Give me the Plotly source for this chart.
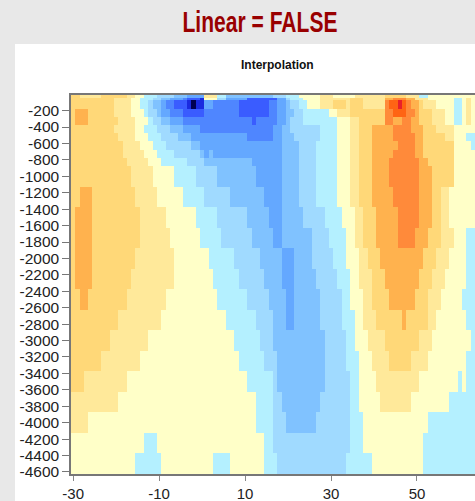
import plotly.graph_objects as go

# Band classes -8..6 and their colours
band_values = list(range(-8, 7))
band_colors = ["#000050", "#1a2ae0", "#3a5cff", "#4f86ff", "#64a8ff", "#80c2ff", "#a0daff", "#b4f0ff",
               "#ffffc8", "#ffe99a", "#ffd878", "#ffb24e", "#ff8a3a", "#ff6414", "#e8202a"]

lon_centres = list(range(-30, 64))
lon_edges = [v - 0.5 for v in lon_centres] + [63.5]

depth_edges = [-10, -45, -75, -175, -275, -375, -475, -575, -675, -775, -875, -1125, -1375, -1625,
               -1875, -2125, -2375, -2625, -2875, -3125, -3375, -3625, -3875, -4125, -4375, -4625]

# For each depth band, top to bottom: (class, last longitude of that class)
runs_by_depth = [
    [(2,-29),(1,-24),(2,-18),(1,-16),(0,-14),(-1,-11),(-2,-7),(-3,-4),(-4,0),(1,3),(-1,5),(-3,16),(-2,19),(-1,22),(0,27),(1,30),(0,35),(1,42),(2,47),(1,50),(-1,52),(0,63)],
    [(2,-21),(1,-17),(0,-15),(-1,-12),(-2,-10),(-3,-8),(-4,-5),(-5,-4),(-6,-1),(-7,0),(0,3),(-2,5),(-4,10),(-6,17),(-4,19),(-2,20),(-1,23),(0,27),(1,34),(2,37),(1,42),(3,44),(4,47),(3,49),(1,52),(0,58),(-1,60),(0,61),(1,62),(0,63)],
    [(2,-21),(1,-17),(0,-15),(-1,-13),(-2,-12),(-3,-10),(-4,-9),(-5,-7),(-6,-4),(-7,-3),(-8,-2),(-7,0),(-4,2),(-5,8),(-6,15),(-5,17),(-4,19),(-3,20),(-2,22),(-1,24),(0,27),(1,30),(2,33),(1,34),(2,37),(1,42),(4,43),(5,45),(6,46),(5,47),(4,48),(3,50),(2,51),(1,54),(0,58),(-1,60),(0,61),(1,62),(0,63)],
    [(2,-30),(3,-27),(2,-21),(1,-17),(0,-14),(-1,-13),(-2,-11),(-3,-10),(-4,-8),(-5,-5),(-6,0),(-5,8),(-6,15),(-5,17),(-4,19),(-3,21),(-2,23),(-1,29),(0,31),(1,34),(2,42),(4,44),(5,47),(4,49),(3,50),(2,53),(1,56),(0,58),(-1,60),(0,61),(1,62),(0,63)],
    [(2,-30),(3,-27),(2,-20),(1,-16),(0,-13),(-1,-12),(-2,-10),(-3,-8),(-4,-5),(-5,11),(-6,12),(-5,17),(-4,19),(-3,20),(-2,23),(-1,31),(0,34),(1,36),(2,42),(4,44),(3,46),(4,48),(3,50),(2,53),(1,56),(0,58),(-1,60),(0,61),(1,62),(0,63)],
    [(2,-21),(1,-16),(0,-14),(-1,-11),(-2,-8),(-3,-5),(-4,-1),(-5,16),(-4,18),(-3,20),(-2,27),(-1,31),(0,34),(1,36),(2,39),(3,44),(4,48),(3,51),(2,54),(1,58),(0,63)],
    [(2,-20),(1,-16),(0,-13),(-1,-10),(-2,-6),(-3,-3),(-4,10),(-5,16),(-4,18),(-3,21),(-2,27),(-1,31),(0,34),(1,36),(2,39),(3,44),(4,49),(3,51),(2,56),(1,58),(0,61),(-1,63)],
    [(2,-19),(1,-15),(0,-12),(-1,-9),(-2,-3),(-3,-1),(-4,18),(-3,22),(-2,26),(-1,31),(0,34),(1,36),(2,39),(3,45),(4,49),(3,51),(2,58),(0,62),(-1,63)],
    [(2,-19),(1,-14),(0,-11),(-1,-7),(-2,-1),(-3,0),(-4,1),(-3,2),(-4,18),(-3,22),(-2,26),(-1,31),(0,34),(1,36),(2,39),(3,44),(4,49),(3,51),(2,58),(0,63)],
    [(2,-18),(1,-13),(0,-10),(-1,-4),(-2,0),(-3,11),(-4,18),(-3,22),(-2,26),(-1,31),(0,34),(1,36),(2,39),(3,43),(4,50),(3,52),(2,58),(0,63)],
    [(2,-17),(1,-12),(0,-7),(-1,-2),(-2,3),(-3,12),(-4,18),(-3,22),(-2,26),(-1,31),(0,34),(1,36),(2,39),(3,43),(4,50),(3,53),(2,58),(0,63)],
    [(2,-29),(3,-26),(2,-16),(1,-11),(0,-5),(-1,0),(-2,6),(-3,14),(-4,18),(-3,22),(-2,26),(-1,31),(0,34),(1,36),(2,39),(3,44),(4,50),(3,53),(2,55),(1,57),(0,63)],
    [(2,-30),(3,-26),(2,-15),(1,-9),(0,-2),(-1,3),(-2,10),(-3,15),(-4,18),(-3,23),(-2,28),(-1,32),(0,35),(1,37),(2,40),(3,45),(4,50),(3,53),(2,55),(1,57),(0,63)],
    [(2,-30),(3,-26),(2,-15),(1,-8),(0,-1),(-1,4),(-2,11),(-3,16),(-4,18),(-3,25),(-2,29),(-1,33),(0,35),(1,37),(2,40),(3,45),(4,49),(3,52),(2,55),(1,58),(0,61),(-1,63)],
    [(2,-30),(3,-26),(2,-16),(1,-7),(0,1),(-1,7),(-2,13),(-3,18),(-4,21),(-3,25),(-2,30),(-1,33),(0,36),(1,38),(2,41),(3,51),(2,54),(1,57),(0,61),(-1,63)],
    [(2,-30),(3,-26),(2,-17),(1,-7),(0,2),(-1,8),(-2,14),(-3,18),(-4,21),(-3,26),(-2,31),(-1,34),(0,36),(1,39),(2,42),(3,50),(2,53),(1,56),(0,61),(-1,63)],
    [(2,-29),(3,-27),(2,-18),(1,-9),(0,3),(-1,10),(-2,15),(-3,19),(-4,21),(-3,27),(-2,32),(-1,34),(0,37),(1,39),(2,43),(3,49),(2,52),(1,55),(0,60),(-1,63)],
    [(2,-20),(1,-10),(0,5),(-1,12),(-2,16),(-3,19),(-4,21),(-3,27),(-2,32),(-1,35),(0,37),(1,40),(2,46),(3,47),(2,52),(1,54),(0,61),(-1,63)],
    [(2,-22),(1,-13),(0,7),(-1,13),(-2,16),(-3,28),(-2,33),(-1,35),(0,38),(1,42),(2,50),(1,53),(0,62),(-1,63)],
    [(2,-24),(1,-15),(0,8),(-1,14),(-2,17),(-3,28),(-2,33),(-1,36),(0,39),(1,43),(2,48),(1,52),(0,61),(-1,63)],
    [(2,-28),(1,-18),(0,10),(-1,16),(-2,17),(-3,28),(-2,34),(-1,36),(0,40),(1,50),(0,59),(-1,60),(0,61),(-1,63)],
    [(1,-20),(0,12),(-1,16),(-2,18),(-3,27),(-2,34),(-1,36),(0,41),(1,48),(0,57),(-1,63)],
    [(1,-27),(0,12),(-1,16),(-2,19),(-3,26),(-2,34),(-1,37),(0,52),(-1,63)],
    [(0,-14),(-1,-11),(0,14),(-1,16),(-2,34),(-1,37),(0,51),(-1,63)],
    [(0,-16),(-1,-10),(0,2),(-1,6),(0,14),(-1,17),(-2,33),(-1,39),(0,51),(-1,63)],
]

y_ticks = list(range(-200, -4601, -200))
x_ticks = [-30, -10, 10, 30, 50]

z = []
for runs in runs_by_depth:
    row = []
    for lon in lon_centres:
        row.append(next(c for c, end in runs if lon <= end))
    z.append(row)

n = len(band_colors)
colorscale = []
for i, c in enumerate(band_colors):
    colorscale += [[i / n, c], [(i + 1) / n, c]]

fig = go.Figure(go.Heatmap(
    x=lon_edges, y=depth_edges, z=z,
    colorscale=colorscale, zmin=band_values[0] - 0.5, zmax=band_values[-1] + 0.5,
    showscale=False, zsmooth=False,
))

W, H = 475, 501
L, R, T, B = 71, 0, 95, 27
pw, ph = W - L - R, H - T - B
fig.update_layout(
    width=W, height=H,
    margin=dict(l=L, r=R, t=T, b=B, pad=0),
    paper_bgcolor="#e8e8e8", plot_bgcolor="#ffffff",
    font=dict(family="Liberation Sans, Arial, sans-serif", color="#222222"),
    title=dict(text="Linear = FALSE", xref="container", yref="container",
               x=260 / W, y=1 - 22 / H, xanchor="center", yanchor="middle", automargin=False,
               font=dict(family="Liberation Sans, sans-serif", size=30, weight=700, color="#990000")),
    xaxis=dict(range=[-30.5, 63.5], tickmode="array", tickvals=x_ticks, ticktext=[str(v) for v in x_ticks],
               automargin=False,
               ticks="outside", ticklen=5, tickwidth=1.2, tickcolor="#888888",
               showline=True, linecolor="#777777", linewidth=1.5, mirror=True, showgrid=False, zeroline=False,
               tickfont=dict(size=15, color="#222222")),
    yaxis=dict(range=[-4625, -10], tickmode="array", tickvals=y_ticks, ticktext=[str(v) for v in y_ticks],
               automargin=False,
               ticks="outside", ticklen=7, tickwidth=1.2, tickcolor="#777777",
               showline=True, linecolor="#777777", linewidth=1.5, mirror=True, showgrid=False, zeroline=False,
               tickfont=dict(size=15.5, color="#222222")),
    shapes=[dict(type="rect", xref="paper", yref="paper", layer="below", line=dict(width=0),
                 fillcolor="#ffffff", x0=(15 - L) / pw, x1=1, y0=-B / ph, y1=(H - B - 44) / ph)],
    annotations=[dict(text="<b>Interpolation</b>", xref="paper", yref="paper",
                      x=(277.5 - L) / pw, y=(H - B - 65) / ph, xanchor="center", yanchor="middle",
                      showarrow=False, font=dict(size=12, color="#111111"))],
)

# The reference headline is set in a condensed face: narrow the real text to the same width.
narrow_title = """
document.body.style.margin='0';document.body.style.overflow='hidden';
var t=document.querySelector('.gtitle');
if(t){var b=t.getBBox();var c=b.x+b.width/2;var s=155/b.width;
t.setAttribute('transform','translate('+c+',0) scale('+s+',1) translate('+(-c)+',0)');}
"""
fig.write_html("out.html", post_script=narrow_title, config={"displayModeBar": False})
